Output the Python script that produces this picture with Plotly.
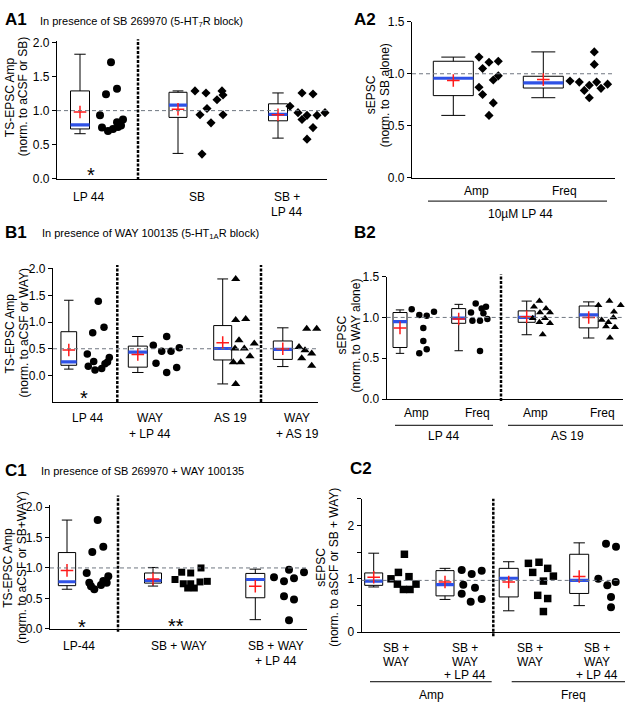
import plotly.graph_objects as go

W, H = 628, 710
FONT = "Liberation Sans, Arial, Helvetica, sans-serif"
BLUE = "#2f52e6"
RED = "#ff1a1a"

# ======================= DATA =======================
# ---- A1: TS-EPSC Amp, in presence of SB 269970 ----
a1_groups = ["LP 44", "SB", "SB +<br>LP 44"]
a1_lp44 = [1.71, 1.32, 1.24, 0.93, 0.87, 0.83, 0.76, 0.75, 0.73, 0.70, 0.78]
a1_sb = [1.29, 1.26, 1.29, 1.23, 1.16, 1.03, 0.94, 0.94, 0.82, 0.36]
a1_sb_lp44 = [1.065, 1.26, 1.245, 0.97, 0.87, 0.93, 0.93, 0.97, 0.75, 0.58]
a1_low = [0.66, 0.37, 0.595]
a1_q1 = [0.73, 0.90, 0.85]
a1_median = [0.79, 1.08, 0.944]
a1_q3 = [1.29, 1.27, 1.10]
a1_high = [1.83, 1.29, 1.26]
a1_mean = [0.98, 1.02, 0.94]

# ---- A2: sEPSC norm. to SB alone (10 uM LP 44) ----
a2_groups = ["Amp", "Freq"]
a2_amp = [1.16, 1.05, 1.11, 1.12, 0.98, 0.94, 0.87, 0.80, 0.72, 0.60]
a2_freq = [0.93, 0.92, 1.21, 1.09, 0.92, 0.84, 0.89, 0.86, 0.90, 0.77]
a2_low = [0.60, 0.77]
a2_q1 = [0.79, 0.863]
a2_median = [0.957, 0.913]
a2_q3 = [1.12, 0.976]
a2_high = [1.16, 1.21]
a2_mean = [0.935, 0.944]

# ---- B1: TS-EPSC Amp, in presence of WAY 100135 ----
b1_groups = ["LP 44", "WAY<br>+ LP 44", "AS 19", "WAY<br>+ AS 19"]
b1_lp44 = [1.39, 0.80, 0.905, 0.40, 0.17, 0.26, 0.10, 0.13, 0.22, 0.25, 0.335]
b1_way_lp44 = [0.565, 0.73, 0.52, 0.455, 0.455, 0.228, 0.15, 0.055]
b1_as19 = [1.81, 1.04, 1.06, 0.66, 0.60, 0.505, 0.505, 0.36, 0.246, 0.246, -0.16]
b1_way_as19 = [0.875, 0.875, 0.535, 0.474, 0.41, 0.505, 0.548, 0.32, 0.18, 0.229]
b1_low = [0.118, 0.055, -0.16, 0.166]
b1_q1 = [0.19, 0.155, 0.29, 0.30]
b1_median = [0.254, 0.435, 0.505, 0.49]
b1_q3 = [0.82, 0.55, 0.935, 0.646]
b1_high = [1.41, 0.73, 1.81, 0.893]
b1_mean = [0.478, 0.393, 0.615, 0.50]

# ---- B2: sEPSC norm. to WAY alone ----
b2_groups = ["Amp", "Freq", "Amp", "Freq"]
b2_lp44_amp = [1.10, 1.03, 1.02, 1.07, 0.87, 0.71, 0.61, 0.56]
b2_lp44_freq = [1.17, 1.11, 1.13, 1.06, 1.05, 0.98, 0.96, 0.96, 0.59]
b2_as19_amp = [1.20, 1.13, 1.11, 0.99, 1.06, 1.06, 0.99, 0.94, 0.93, 0.79]
b2_as19_freq = [1.15, 1.20, 1.15, 0.97, 1.07, 1.00, 0.94, 0.88, 0.89, 0.75]
b2_low = [0.56, 0.592, 0.788, 0.748]
b2_q1 = [0.632, 0.928, 0.94, 0.872]
b2_median = [0.948, 0.992, 1.00, 1.03]
b2_q3 = [1.06, 1.108, 1.08, 1.14]
b2_high = [1.092, 1.16, 1.20, 1.19]
b2_mean = [0.872, 0.98, 1.008, 1.00]

# ---- C1: TS-EPSC Amp, in presence of SB 269970 + WAY 100135 ----
c1_groups = ["LP-44", "SB + WAY", "SB + WAY<br>+ LP 44"]
c1_lp44 = [1.787, 1.35, 1.264, 0.917, 0.757, 0.65, 0.72, 0.784, 0.864, 0.757, 0.70]
c1_sb_way = [0.81, 0.93, 0.917, 1.00, 0.74, 0.67, 0.67, 0.77, 0.78, 0.74]
c1_sb_way_lp44 = [0.847, 0.783, 0.97, 0.83, 0.928, 0.536, 0.483, 0.14]
c1_low = [0.65, 0.702, 0.15]
c1_q1 = [0.709, 0.751, 0.51]
c1_median = [0.773, 0.794, 0.81]
c1_q3 = [1.253, 0.917, 0.91]
c1_high = [1.787, 1.008, 0.98]
c1_mean = [0.96, 0.82, 0.70]

# ---- C2: sEPSC norm. to aSCF or SB + WAY ----
c2_groups = ["SB +<br>WAY", "SB +<br>WAY<br>+ LP 44", "SB +<br>WAY", "SB +<br>WAY<br>+ LP 44"]
c2_amp_sb_way = [1.46, 1.00, 1.12, 1.04, 0.90, 0.80, 0.80, 0.90]
c2_amp_sb_way_lp44 = [1.166, 1.09, 1.15, 0.89, 0.83, 0.72, 0.57, 0.62]
c2_freq_sb_way = [1.29, 1.31, 1.12, 1.196, 0.957, 1.05, 0.69, 0.63, 0.386]
c2_freq_sb_way_lp44 = [1.656, 1.60, 1.00, 0.877, 0.94, 1.00, 0.66, 0.467]
c2_low = [0.847, 0.613, 0.40, 0.497]
c2_q1 = [0.877, 0.68, 0.66, 0.725]
c2_median = [0.957, 0.89, 1.01, 0.97]
c2_q3 = [1.11, 1.153, 1.196, 1.46]
c2_high = [1.48, 1.196, 1.32, 1.674]
c2_mean = [1.03, 0.94, 0.94, 1.043]

# ======================= LAYOUT (positions / jitter) =======================
a1_pos = [0, 0.98, 1.98]
a1_dx = [[0.31, 0.37, 0.26, 0.20, 0.43, 0.37, 0.38, 0.22, 0.33, 0.28, 0.41],
         [0.17, 0.28, 0.44, 0.45, 0.39, 0.29, 0.22, 0.45, 0.33, 0.24],
         [0.12, 0.24, 0.35, 0.20, 0.24, 0.29, 0.39, 0.47, 0.35, 0.29]]
a2_pos = [0, 0.9]
a2_dx = [[0.257, 0.293, 0.357, 0.45, 0.45, 0.40, 0.257, 0.293, 0.40, 0.357],
         [0.267, 0.36, 0.51, 0.51, 0.533, 0.41, 0.46, 0.577, 0.643, 0.46]]
b1_pos = [0, 0.69, 1.539, 2.14]
b1_dx = [[0.295, 0.239, 0.352, 0.185, 0.195, 0.249, 0.262, 0.329, 0.362, 0.387, 0.405],
         [0.155, 0.289, 0.415, 0.239, 0.332, 0.182, 0.389, 0.289],
         [0.13, 0.13, 0.23, 0.163, 0.316, 0.123, 0.216, 0.273, 0.106, 0.18, 0.13],
         [0.239, 0.339, 0.162, 0.222, 0.289, 0.355, 0.405, 0.189, 0.289, 0.389]]
b2_pos = [0, 0.587, 1.267, 1.887]
b2_dx = [[0.117, 0.193, 0.267, 0.34, 0.233, 0.233, 0.267, 0.193],
         [0.17, 0.23, 0.273, 0.123, 0.247, 0.287, 0.137, 0.213, 0.213],
         [0.127, 0.073, 0.193, 0.06, 0.133, 0.233, 0.183, 0.127, 0.233, 0.16],
         [0.097, 0.207, 0.32, 0.13, 0.253, 0.247, 0.197, 0.263, 0.173, 0.213]]
c1_pos = [0, 0.86, 1.883]
c1_dx = [[0.307, 0.363, 0.253, 0.197, 0.223, 0.273, 0.34, 0.363, 0.413, 0.397, 0.24],
         [0.22, 0.287, 0.377, 0.48, 0.303, 0.347, 0.413, 0.47, 0.543, 0.377],
         [0.187, 0.287, 0.337, 0.387, 0.487, 0.287, 0.387, 0.337]]
c2_pos = [0, 0.713, 1.35, 2.055]
c2_dx = [[0.307, 0.173, 0.247, 0.353, 0.237, 0.297, 0.363, 0.423],
         [0.167, 0.267, 0.367, 0.183, 0.30, 0.167, 0.257, 0.367],
         [0.197, 0.303, 0.24, 0.39, 0.347, 0.447, 0.29, 0.39, 0.347],
         [0.268, 0.368, 0.191, 0.281, 0.365, 0.448, 0.318, 0.318]]


def px_x(x):
    return x / W


def px_y(y):
    return 1 - y / H


fig = go.Figure()
annotations = []
shapes = []


def add_group(n, pos, vals, dx, lo, q1, med, q3, hi, mean, symbol, msize, bw):
    xa = "x" if n == 1 else f"x{n}"
    ya = "y" if n == 1 else f"y{n}"
    fig.add_trace(go.Box(x=[pos], lowerfence=[lo], q1=[q1], median=[med], q3=[q3],
                         upperfence=[hi], width=bw, whiskerwidth=0.6,
                         fillcolor="white", line=dict(color="black", width=1),
                         boxpoints=False, hoverinfo="skip", xaxis=xa, yaxis=ya))
    fig.add_trace(go.Scatter(x=[pos - bw / 2, pos + bw / 2], y=[med, med], mode="lines",
                             line=dict(color=BLUE, width=3.2), hoverinfo="skip",
                             xaxis=xa, yaxis=ya))
    fig.add_trace(go.Scatter(x=[pos], y=[mean], mode="markers",
                             marker=dict(symbol="cross-thin", size=9,
                                         line=dict(color=RED, width=1.5)),
                             hoverinfo="skip", xaxis=xa, yaxis=ya))
    fig.add_trace(go.Scatter(x=[pos + d for d in dx], y=vals, mode="markers",
                             marker=dict(symbol=symbol, size=msize, color="black"),
                             cliponaxis=False, hoverinfo="skip", xaxis=xa, yaxis=ya))


def add_panel(n, pos, series, dxs, stats, symbols, sizes, widths):
    lo, q1, med, q3, hi, mean = stats
    for i in range(len(pos)):
        add_group(n, pos[i], series[i], dxs[i], lo[i], q1[i], med[i], q3[i], hi[i],
                  mean[i], symbols[i], sizes[i], widths[i])


add_panel(1, a1_pos, [a1_lp44, a1_sb, a1_sb_lp44], a1_dx,
          (a1_low, a1_q1, a1_median, a1_q3, a1_high, a1_mean),
          ["circle", "diamond", "diamond"], [8, 7, 7], [0.19, 0.18, 0.19])
add_panel(2, a2_pos, [a2_amp, a2_freq], a2_dx,
          (a2_low, a2_q1, a2_median, a2_q3, a2_high, a2_mean),
          ["diamond", "diamond"], [7, 7], [0.40, 0.40])
add_panel(3, b1_pos, [b1_lp44, b1_way_lp44, b1_as19, b1_way_as19], b1_dx,
          (b1_low, b1_q1, b1_median, b1_q3, b1_high, b1_mean),
          ["circle", "circle", "triangle-up", "triangle-up"], [7.5, 7.5, 8, 8],
          [0.157, 0.19, 0.18, 0.19])
add_panel(4, b2_pos, [b2_lp44_amp, b2_lp44_freq, b2_as19_amp, b2_as19_freq], b2_dx,
          (b2_low, b2_q1, b2_median, b2_q3, b2_high, b2_mean),
          ["circle", "circle", "triangle-up", "triangle-up"], [6.5, 6.5, 7, 7],
          [0.14, 0.14, 0.17, 0.19])
add_panel(5, c1_pos, [c1_lp44, c1_sb_way, c1_sb_way_lp44], c1_dx,
          (c1_low, c1_q1, c1_median, c1_q3, c1_high, c1_mean),
          ["circle", "square", "circle"], [8, 7, 8], [0.173, 0.17, 0.19])
add_panel(6, c2_pos, [c2_amp_sb_way, c2_amp_sb_way_lp44, c2_freq_sb_way, c2_freq_sb_way_lp44],
          c2_dx, (c2_low, c2_q1, c2_median, c2_q3, c2_high, c2_mean),
          ["square", "circle", "square", "circle"], [7.5, 8, 7.5, 8],
          [0.18, 0.18, 0.19, 0.19])

# ---------------- axes ----------------
panels = {
    # n: (x domain px, y domain px, x range, y range, tickvals, ticktext, minor ticks)
    1: ((57, 327), (35, 175), (-0.23, 2.47), (0, 2.02),
        [0, 0.5, 1, 1.5, 2], ["0.0", "0.5", "1.0", "1.5", "2.0"], None),
    2: ((412, 615), (15, 174.3), (-0.413, 1.617), (0, 1.5),
        [0, 0.5, 1, 1.5], ["0.0", "0.5", "1.0", "1.5"], None),
    3: ((53, 318), (266, 403), (-0.158, 2.492), (-0.5, 2.02),
        [0, 0.5, 1, 1.5, 2], ["0.0", "0.5", "1.0", "1.5", "2.0"], None),
    4: ((386.7, 623), (275, 400), (-0.133, 2.23), (0, 1.5),
        [0, 0.5, 1, 1.5], ["0.0", "0.5", "1.0", "1.5"], None),
    5: ((50, 307), (508.3, 634.3), (-0.17, 2.40), (0, 2.03),
        [0, 0.5, 1, 1.5, 2], ["0.0", "0.5", "1.0", "1.5", "2.0"], None),
    6: ((361.7, 620), (501.7, 637.7), (-0.12, 2.463), (0, 2.5),
        [0, 1, 2], ["0", "1", "2"], [0.5, 1.5, 2.5]),
}
layout_axes = {}
for n, (xd, yd, xr, yr, tv, tt, minor) in panels.items():
    xk = "xaxis" if n == 1 else f"xaxis{n}"
    yk = "yaxis" if n == 1 else f"yaxis{n}"
    ya = "y" if n == 1 else f"y{n}"
    xa = "x" if n == 1 else f"x{n}"
    layout_axes[xk] = dict(domain=[px_x(xd[0]), px_x(xd[1])], range=list(xr), type="linear",
                           anchor=ya, showline=True, linecolor="black", linewidth=1.2,
                           ticks="", showticklabels=False, showgrid=False, zeroline=False,
                           fixedrange=True)
    yax = dict(domain=[px_y(yd[1]), px_y(yd[0])], range=list(yr), type="linear",
               anchor=xa, showline=True, linecolor="black", linewidth=1.2,
               ticks="outside", ticklen=4, tickwidth=1.2, tickcolor="black",
               tickmode="array", tickvals=tv, ticktext=tt, showticklabels=True,
               showgrid=False, zeroline=False,
               tickfont=dict(size=12, family=FONT, color="black"),
               fixedrange=True)
    if minor:
        yax["minor"] = dict(tickvals=minor, ticks="outside", ticklen=4, tickwidth=1.2,
                            tickcolor="black", showgrid=False)
    layout_axes[yk] = yax

# ---------------- reference lines & separators ----------------
ref_lines = {1: 1.0, 2: 1.0, 3: 0.5, 4: 1.0, 5: 1.0, 6: 0.97}
for n, v in ref_lines.items():
    xa = "x" if n == 1 else f"x{n}"
    ya = "y" if n == 1 else f"y{n}"
    shapes.append(dict(type="line", xref=f"{xa} domain", yref=ya, x0=0, x1=1, y0=v, y1=v,
                       line=dict(color="#6f7680", width=1, dash="4px,3px"), layer="above"))

separators = {1: ([0.58], -0.01, 1.015), 3: ([0.485, 1.922], 0, 1.02),
              4: ([1.01], -0.016, 1.016), 5: ([0.51], -0.024, 1.08),
              6: ([1.196], -0.03, 1.0)}
for n, (xs, y0, y1) in separators.items():
    xa = "x" if n == 1 else f"x{n}"
    ya = "y" if n == 1 else f"y{n}"
    for s in xs:
        shapes.append(dict(type="line", xref=xa, yref=f"{ya} domain", x0=s, x1=s, y0=y0, y1=y1,
                           line=dict(color="black", width=2.5, dash="3px,1.5px"), layer="above"))


def txt(text, x, y, xref="paper", size=12, bold=False, xanchor="center", angle=0):
    annotations.append(dict(text=f"<b>{text}</b>" if bold else text, x=x, y=px_y(y),
                            xref=xref, yref="paper", showarrow=False, textangle=angle,
                            font=dict(size=size, family=FONT, color="black"),
                            xanchor=xanchor, yanchor="middle"))


def bracket(x0, x1, y):
    shapes.append(dict(type="line", xref="paper", yref="paper", x0=px_x(x0), x1=px_x(x1),
                       y0=px_y(y), y1=px_y(y), line=dict(color="black", width=1)))


# ---------------- panel titles ----------------
txt("A1", px_x(3), 13, size=17, bold=True, xanchor="left")
txt("In presence of SB 269970 (5-HT<sub>7</sub>R block)", px_x(38), 15, size=11, xanchor="left")
txt("A2", px_x(352), 13, size=17, bold=True, xanchor="left")
txt("B1", px_x(3), 230, size=17, bold=True, xanchor="left")
txt("In presence of WAY 100135 (5-HT<sub>1A</sub>R block)", px_x(40), 232, size=11, xanchor="left")
txt("B2", px_x(352), 230, size=17, bold=True, xanchor="left")
txt("C1", px_x(3), 472.5, size=17, bold=True, xanchor="left")
txt("In presence of SB 269970 + WAY 100135", px_x(39), 473, size=11, xanchor="left")
txt("C2", px_x(348), 471, size=17, bold=True, xanchor="left")

# ---------------- y-axis titles ----------------
txt("TS-EPSC Amp", px_x(10), 92, angle=-90)
txt("(norm. to aCSF or SB)", px_x(23), 92, angle=-90)
txt("sEPSC", px_x(371), 90, angle=-90)
txt("(norm. to SB alone)", px_x(385), 90, angle=-90)
txt("TS-EPSC Amp", px_x(10), 333, angle=-90)
txt("(norm. to aCSF or WAY)", px_x(24), 333, angle=-90)
txt("sEPSC", px_x(342), 335, angle=-90)
txt("(norm. to WAY alone)", px_x(356), 335, angle=-90)
txt("TS-EPSC Amp", px_x(8), 572, angle=-90)
txt("(norm. to aCSF or SB+WAY)", px_x(22), 572, angle=-90)
txt("sEPSC", px_x(321), 572, angle=-90)
txt("(norm. to aSCF or SB + WAY)", px_x(334), 572, angle=-90)


# ---------------- category labels ----------------
def cat_labels(n, names, xs, y_first, spacing):
    xa = "x" if n == 1 else f"x{n}"
    for name, x in zip(names, xs):
        for k, line in enumerate(name.split("<br>")):
            txt(line, x, y_first + k * spacing, xref=xa)


cat_labels(1, a1_groups, [0.08, 1.17, 2.065], 194, 15)
cat_labels(2, a2_groups, [0.227, 1.107], 188, 14)
cat_labels(3, b1_groups, [0.182, 0.815, 1.62, 2.285], 419.3, 16.7)
cat_labels(4, b2_groups, [0.16, 0.77, 1.35, 2.02], 414.3, 14)
cat_labels(5, c1_groups, [0.12, 1.12, 2.09], 652.3, 14.4)
cat_labels(6, c2_groups, [0.223, 0.913, 1.563, 2.23], 654.3, 13.7)

# group brackets
bracket(428, 607, 198)
txt("10µM LP 44", px_x(520), 211)
bracket(395, 493, 426.7)
txt("LP 44", px_x(443), 437.3)
bracket(508, 623, 426.7)
txt("AS 19", px_x(567), 437.3)
bracket(370, 491.7, 688.3)
txt("Amp", px_x(431.7), 701.7)
bracket(511.7, 625, 688.3)
txt("Freq", px_x(573.3), 701.7)

# significance asterisks
txt("*", px_x(91), 171, size=20)
txt("*", px_x(84), 398.5, size=20)
txt("*", px_x(81.7), 632, size=20)
txt("**", px_x(175.7), 631, size=20)

fig.update_layout(width=W, height=H, margin=dict(l=0, r=0, t=0, b=0),
                  paper_bgcolor="white", plot_bgcolor="white", showlegend=False,
                  boxmode="overlay", font=dict(family=FONT, size=12, color="black"),
                  annotations=annotations, shapes=shapes, **layout_axes)

fig.write_html("out.html", config={"displayModeBar": False},
               post_script="document.body.style.margin='0';document.body.style.padding='0';")
